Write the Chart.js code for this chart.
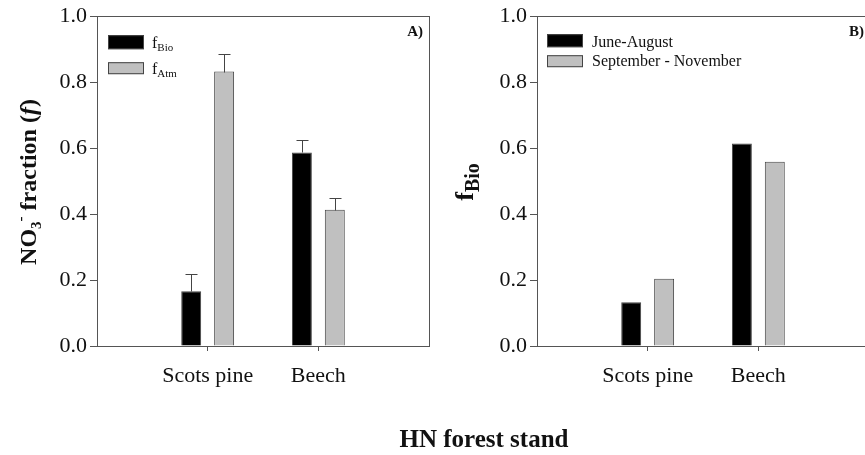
<!DOCTYPE html>
<html><head><meta charset="utf-8">
<script src="https://cdn.jsdelivr.net/npm/chart.js@4.4.1/dist/chart.umd.min.js"></script>
<style>
html,body{margin:0;padding:0;background:#fff;overflow:hidden;width:865px;height:455px;}
#wrap{position:relative;width:865px;height:455px;overflow:hidden;background:#fff;}
canvas{position:absolute;top:0;}
#cA{left:0;} #cB{left:433px;}
#xt{position:absolute;left:334px;width:300px;text-align:center;top:426px;font-family:"Liberation Serif","Times New Roman",serif;font-weight:bold;font-size:25px;line-height:25px;color:#111;}
</style></head><body>
<div id="wrap">
<canvas id="cA" width="440" height="455" style="width:440px;height:455px"></canvas>
<canvas id="cB" width="440" height="455" style="width:440px;height:455px"></canvas>
<div id="xt">HN forest stand</div>
</div>
<script>
// ---- data ----
const categories = ['Scots pine', 'Beech'];
const fBio = [0.166, 0.587];
const fBioErr = [0.053, 0.038];
const fAtm = [0.832, 0.413];
const fAtmErr = [0.054, 0.035];
const juneAug = [0.133, 0.614];
const sepNov = [0.204, 0.559];
const yTicks = [0, 0.2, 0.4, 0.6, 0.8, 1.0];

const serif = '"Liberation Serif", "Times New Roman", serif';
const AX = '#555';
const BLACK = '#000000';
const GREY = '#c0c0c0';

function drawRich(ctx, segs, x, y, align) {
  let w = 0;
  segs.forEach(s => { ctx.font = s.font; s.w = ctx.measureText(s.text).width; w += s.w; });
  let cx = align === 'center' ? x - w / 2 : (align === 'right' ? x - w : x);
  ctx.textAlign = 'left';
  segs.forEach(s => { ctx.font = s.font; ctx.fillText(s.text, cx, y + (s.dy || 0)); cx += s.w; });
}

const framePlugin = {
  id: 'frame',
  afterDraw(chart) {
    const ctx = chart.ctx, a = chart.chartArea;
    ctx.save();
    ctx.strokeStyle = AX; ctx.lineWidth = 1;
    ctx.strokeRect(Math.round(a.left) + 0.5, Math.round(a.top) + 0.5, Math.round(a.right - a.left), Math.round(a.bottom - a.top));
    ctx.restore();
  }
};

const errPlugin = {
  id: 'errbars',
  afterDatasetsDraw(chart, args, o) {
    if (!o || !o.errors) return;
    const ctx = chart.ctx, ys = chart.scales.y;
    ctx.save();
    ctx.strokeStyle = '#444'; ctx.lineWidth = 1;
    o.errors.forEach((errs, di) => {
      if (!errs) return;
      const meta = chart.getDatasetMeta(di);
      const vals = chart.data.datasets[di].data;
      meta.data.forEach((el, i) => {
        const v = vals[i], e = errs[i - 1];
        if (v == null || e == null) return;
        const x = Math.round(el.x) + 0.5;
        const y0 = Math.round(ys.getPixelForValue(v)) + 0.5;
        const y1 = Math.round(ys.getPixelForValue(v + e)) + 0.5;
        ctx.beginPath();
        ctx.moveTo(x, y0); ctx.lineTo(x, y1);
        ctx.moveTo(x - 6, y1); ctx.lineTo(x + 6, y1);
        ctx.stroke();
      });
    });
    ctx.restore();
  }
};

const decoPlugin = {
  id: 'deco',
  afterDraw(chart, args, o) {
    const ctx = chart.ctx, a = chart.chartArea;
    ctx.save();
    ctx.fillStyle = '#111';
    ctx.textBaseline = 'alphabetic';
    ctx.font = 'bold 15px ' + serif;
    ctx.textAlign = 'right';
    ctx.fillText(o.panel, o.panelX, a.top + 20);
    o.legend.forEach(it => {
      const bx = a.left + o.legX, by = a.top + it.top;
      ctx.fillStyle = it.fill;
      ctx.fillRect(bx, by, 36, it.h);
      ctx.strokeStyle = '#444'; ctx.lineWidth = 1;
      ctx.strokeRect(bx + 0.5, by + 0.5, 35, it.h - 1);
      ctx.fillStyle = '#111';
      drawRich(ctx, it.segs, bx + 36 + o.gap, a.top + it.base, 'left');
    });
    ctx.save();
    ctx.translate(o.ytX, o.ytY);
    ctx.rotate(-Math.PI / 2);
    ctx.fillStyle = '#111';
    drawRich(ctx, o.ytitle, 0, 0, 'center');
    ctx.restore();
    ctx.restore();
  }
};

function makeChart(id, sets, padRight, yWidth, plugOpts) {
  return new Chart(document.getElementById(id), {
    type: 'bar',
    data: {
      labels: ['', ...categories, ''],
      datasets: sets.map(s => ({
        label: s.label,
        data: [null, ...s.data, null],
        backgroundColor: s.color,
        borderColor: '#444',
        borderWidth: 1,
        borderSkipped: 'bottom',
        categoryPercentage: 0.595,
        barPercentage: 0.606
      }))
    },
    options: {
      responsive: false,
      animation: false,
      devicePixelRatio: 1,
      layout: { padding: { left: 0, top: 15, right: padRight, bottom: 0 } },
      plugins: {
        legend: { display: false },
        tooltip: { enabled: false },
        errbars: plugOpts.err,
        deco: plugOpts.deco
      },
      scales: {
        x: {
          type: 'category',
          offset: false,
          ticks: { font: { family: serif, size: 22 }, color: '#111', padding: 12, autoSkip: false, maxRotation: 0 },
          grid: { offset: false, drawOnChartArea: false, tickLength: 5, tickColor: c => (c.index === 0 || c.index === 3) ? 'rgba(0,0,0,0)' : AX },
          border: { color: AX, width: 1 },
          afterFit: s => { s.height = 109; s.paddingLeft = 0; s.paddingRight = 0; }
        },
        y: {
          min: 0, max: 1,
          afterBuildTicks: s => { s.ticks = yTicks.map(v => ({ value: v })); },
          ticks: { font: { family: serif, size: 22 }, color: '#111', padding: 3, callback: v => Number(v).toFixed(1) },
          grid: { drawOnChartArea: false, tickLength: 7, tickColor: AX },
          border: { color: AX, width: 1 },
          afterFit: s => { s.width = yWidth; }
        }
      }
    },
    plugins: [framePlugin, errPlugin, decoPlugin]
  });
}

makeChart('cA', [
  { label: 'fBio', data: fBio, color: BLACK },
  { label: 'fAtm', data: fAtm, color: GREY }
], 11, 97, {
  err: { errors: [fBioErr, fAtmErr] },
  deco: {
    panel: 'A)', panelX: 423, legX: 11, gap: 8,
    legend: [
      { fill: BLACK, top: 19, h: 14, base: 32, segs: [{ text: 'f', font: '16px ' + serif }, { text: 'Bio', font: '11px ' + serif, dy: 3 }] },
      { fill: GREY, top: 46, h: 12, base: 58, segs: [{ text: 'f', font: '16px ' + serif }, { text: 'Atm', font: '11px ' + serif, dy: 3 }] }
    ],
    ytX: 36, ytY: 182,
    ytitle: [
      { text: 'NO', font: 'bold 24px ' + serif },
      { text: '3', font: 'bold 15px ' + serif, dy: 5 },
      { text: '-', font: 'bold 15px ' + serif, dy: -11 },
      { text: ' fraction (', font: 'bold 24px ' + serif },
      { text: 'f', font: 'italic bold 24px ' + serif },
      { text: ')', font: 'bold 24px ' + serif }
    ]
  }
});

makeChart('cB', [
  { label: 'June-August', data: juneAug, color: BLACK },
  { label: 'September - November', data: sepNov, color: GREY }
], 4, 104, {
  err: { errors: null },
  deco: {
    panel: 'B)', panelX: 431, legX: 10, gap: 9,
    legend: [
      { fill: BLACK, top: 18, h: 13, base: 31, segs: [{ text: 'June-August', font: '16px ' + serif }] },
      { fill: GREY, top: 39, h: 12, base: 50, segs: [{ text: 'September - November', font: '16px ' + serif }] }
    ],
    ytX: 40, ytY: 182,
    ytitle: [
      { text: 'f', font: 'bold 26px ' + serif },
      { text: 'Bio', font: 'bold 20px ' + serif, dy: 6 }
    ]
  }
});
</script>
</body></html>
